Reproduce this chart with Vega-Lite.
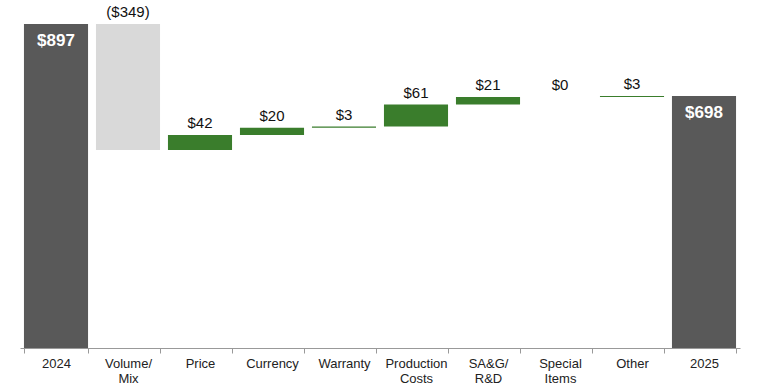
{
  "$schema": "https://vega.github.io/schema/vega-lite/v6.json",
  "autosize": {"type": "none"},
  "width": 720,
  "height": 324,
  "padding": {"left": 20, "top": 24, "right": 20, "bottom": 42},
  "background": "white",
  "config": {"view": {"stroke": null}, "font": "Liberation Sans"},
  "data": {
    "values": [
      {"category": "2024", "start": 0, "end": 897, "label": "$897", "type": "total"},
      {"category": "Volume/ Mix", "start": 897, "end": 548, "label": "($349)", "type": "decrease"},
      {"category": "Price", "start": 548, "end": 590, "label": "$42", "type": "increase"},
      {"category": "Currency", "start": 590, "end": 610, "label": "$20", "type": "increase"},
      {"category": "Warranty", "start": 610, "end": 613, "label": "$3", "type": "increase"},
      {"category": "Production Costs", "start": 613, "end": 674, "label": "$61", "type": "increase"},
      {"category": "SA&G/ R&D", "start": 674, "end": 695, "label": "$21", "type": "increase"},
      {"category": "Special Items", "start": 695, "end": 695, "label": "$0", "type": "increase"},
      {"category": "Other", "start": 695, "end": 698, "label": "$3", "type": "increase"},
      {"category": "2025", "start": 0, "end": 698, "label": "$698", "type": "total"}
    ]
  },
  "transform": [
    {"calculate": "max(datum.start, datum.end)", "as": "top"}
  ],
  "encoding": {
    "x": {
      "field": "category",
      "type": "nominal",
      "sort": null,
      "scale": {"paddingInner": 0.11, "paddingOuter": 0.055},
      "axis": {
        "title": null,
        "labelAngle": 0,
        "labelExpr": "isValid(datum.value) ? split(datum.value, ' ') : ''",
        "labelFontSize": 13,
        "labelColor": "#222222",
        "labelPadding": 4,
        "labelLineHeight": 15,
        "domainColor": "#999999",
        "tickColor": "#999999",
        "tickSize": 5,
        "tickBand": "extent"
      }
    }
  },
  "layer": [
    {
      "mark": {"type": "bar"},
      "encoding": {
        "y": {"field": "start", "type": "quantitative", "scale": {"domain": [0, 897], "nice": false}, "axis": null},
        "y2": {"field": "end"},
        "color": {
          "field": "type",
          "type": "nominal",
          "scale": {"domain": ["total", "decrease", "increase"], "range": ["#595959", "#D9D9D9", "#3A7D2C"]},
          "legend": null
        }
      }
    },
    {
      "transform": [{"filter": "datum.type != 'total'"}],
      "mark": {"type": "text", "baseline": "bottom", "dy": -4, "fontSize": 15, "color": "#111111"},
      "encoding": {
        "y": {"field": "top", "type": "quantitative"},
        "text": {"field": "label"}
      }
    },
    {
      "transform": [{"filter": "datum.type == 'total'"}],
      "mark": {"type": "text", "baseline": "top", "dy": 9, "fontSize": 17, "fontWeight": "bold", "color": "white"},
      "encoding": {
        "y": {"field": "top", "type": "quantitative"},
        "text": {"field": "label"}
      }
    }
  ]
}
